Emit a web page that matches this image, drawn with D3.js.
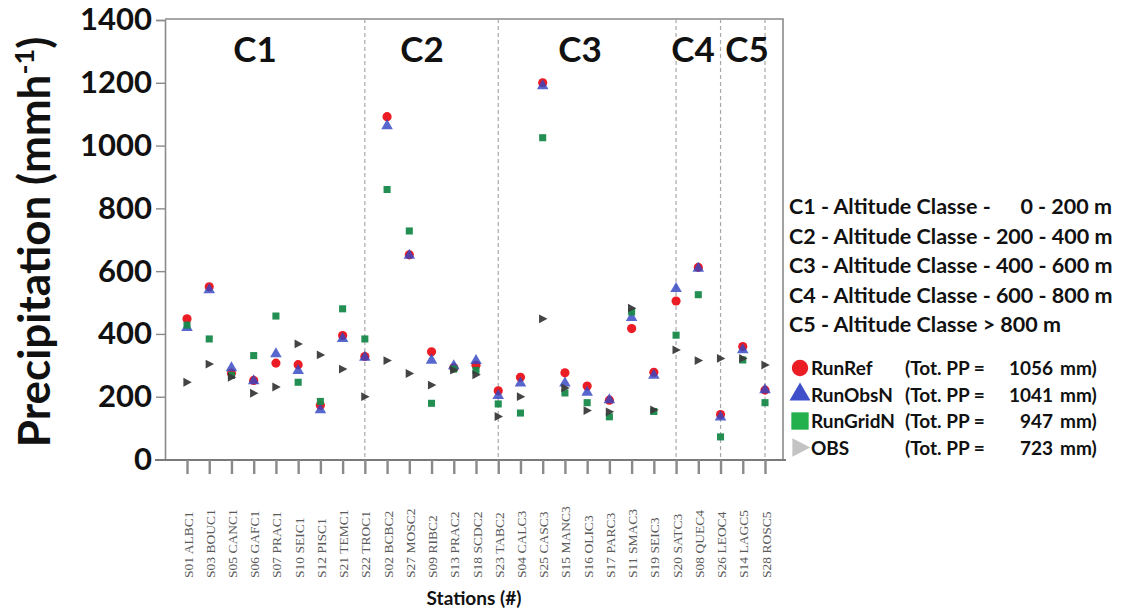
<!DOCTYPE html>
<html>
<head>
<meta charset="utf-8">
<script src="https://d3js.org/d3.v7.min.js"></script>
<style>
  html, body { margin: 0; padding: 0; background: #fff; }
  svg { display: block; }
</style>
</head>
<body>
<div id="chart"></div>
<script>
// stations in plotting order
const stations = [
  "S01 ALBC1", "S03 BOUC1", "S05 CANC1", "S06 GAFC1", "S07 PRAC1", "S10 SEIC1", "S12 PISC1", "S21 TEMC1", "S22 TROC1",
  "S02 BCBC2", "S27 MOSC2", "S09 RIBC2", "S13 PRAC2", "S18 SCDC2", "S23 TABC2",
  "S04 CALC3", "S25 CASC3", "S15 MANC3", "S16 OLIC3", "S17 PARC3", "S11 SMAC3", "S19 SEIC3",
  "S20 SATC3", "S08 QUEC4",
  "S26 LEOC4", "S14 LAGC5", "S28 ROSC5"
];

// precipitation (mm h-1)
const runRef   = [448, 550, 275, 252, 307, 302, 173, 395, 328, 1092, 652, 343, 292, 300, 219, 262, 1200, 276, 234, 189, 417, 278, 505, 612, 143, 360, 221];
const runObsN  = [420, 540, 292, 250, 336, 283, 158, 385, 325, 1063, 650, 316, 298, 315, 203, 243, 1190, 243, 214, 190, 452, 268, 544, 609, 135, 349, 222];
const runGridN = [428, 384, 268, 331, 457, 246, 185, 480, 384, 860, 728, 179, 288, 284, 177, 148, 1025, 212, 181, 136, 470, 153, 396, 525, 72, 317, 181];
const obs      = [246, 304, 262, 211, 231, 368, 333, 288, 200, 315, 274, 237, 285, 270, 137, 200, 448, 228, 156, 152, 482, 158, 349, 315, 322, 322, 301];

// class boundaries (dashed lines) and class labels
const dividers = ["S22 TROC1", "S23 TABC2", "S20 SATC3", "S26 LEOC4", "S28 ROSC5"];
const classLabels = ["C1", "C2", "C3", "C4", "C5"];
const classLabelX = [255, 422, 580, 693, 747];

const classLegend = [
  ["C1 - Altitude Classe -", "0 - 200 m"],
  ["C2 - Altitude Classe - 200 - 400 m", ""],
  ["C3 - Altitude Classe - 400 - 600 m", ""],
  ["C4 - Altitude Classe - 600 - 800 m", ""],
  ["C5 - Altitude Classe > 800 m", ""]
];
const seriesNames = ["RunRef", "RunObsN", "RunGridN", "OBS"];
const seriesTotals = [1056, 1041, 947, 723];
const yTicks = [0, 200, 400, 600, 800, 1000, 1200, 1400];

const width = 1121, height = 614;
const plotLeft = 165, plotRight = 783, plotTop = 19, plotBottom = 460;
const font = "Lato, 'Open Sans', sans-serif";

const svg = d3.select("#chart").append("svg")
  .attr("width", width)
  .attr("height", height);

svg.append("rect").attr("width", width).attr("height", height).attr("fill", "#fff");

const x = d3.scalePoint().domain(stations).range([187, 765]);
const y = d3.scaleLinear().domain([0, 1400]).range([459.5, 20]);

// frame (top + right)
svg.append("path")
  .attr("d", `M${plotLeft},${plotTop}H${plotRight}V${plotBottom}`)
  .attr("fill", "none")
  .attr("stroke", "#8a8a8a")
  .attr("stroke-width", 1.6);

// dashed class dividers
svg.append("g")
  .selectAll("line")
  .data(dividers)
  .enter().append("line")
  .attr("x1", d => x(d)).attr("x2", d => x(d))
  .attr("y1", plotTop).attr("y2", plotBottom)
  .attr("stroke", "#a8a8a8")
  .attr("stroke-width", 1.2)
  .attr("stroke-dasharray", "4,3");

// y axis
const yAxis = svg.append("g")
  .attr("transform", `translate(${plotLeft},0)`)
  .call(d3.axisLeft(y).tickValues(yTicks).tickSize(9).tickPadding(4).tickFormat(d3.format("d")));
yAxis.select(".domain").attr("stroke", "#8a8a8a").attr("stroke-width", 1.6);
yAxis.selectAll(".tick line").attr("stroke", "#8a8a8a").attr("stroke-width", 1.4);
yAxis.selectAll(".tick text")
  .attr("fill", "#111")
  .style("font-family", font)
  .style("font-weight", "bold")
  .style("font-size", "31px");

// x axis
const xAxis = svg.append("g")
  .attr("transform", `translate(0,${plotBottom})`)
  .call(d3.axisBottom(x).tickSize(14).tickSizeOuter(0));
xAxis.select(".domain")
  .attr("d", `M155,0H786`)
  .attr("stroke", "#7a7a7a")
  .attr("stroke-width", 2.2);
xAxis.selectAll(".tick line").attr("stroke", "#8a8a8a").attr("stroke-width", 2.4);
xAxis.selectAll(".tick text")
  .attr("transform", "rotate(-90)")
  .attr("x", -118)
  .attr("y", 5)
  .attr("dy", null)
  .attr("text-anchor", "start")
  .attr("fill", "#5a5a5a")
  .style("font-family", "'Liberation Serif', 'DejaVu Serif', serif")
  .style("font-size", "13.5px");

// class labels
svg.append("g")
  .selectAll("text")
  .data(classLabels)
  .enter().append("text")
  .attr("x", (d, i) => classLabelX[i])
  .attr("y", 62)
  .attr("text-anchor", "middle")
  .style("font-family", font)
  .style("font-weight", "bold")
  .style("font-size", "35px")
  .attr("fill", "#111")
  .text(d => d);

// marker shapes
const circleSym = d3.symbol().type(d3.symbolCircle).size(66);
const triSym = d3.symbol().type(d3.symbolTriangle).size(58);
const squareSym = d3.symbol().type(d3.symbolSquare).size(50);
function rightTri(s) {
  return `M${-s * 0.45},${-s * 0.55}L${s * 0.6},0L${-s * 0.45},${s * 0.55}Z`;
}

const series = [
  { data: runRef, path: circleSym(), color: "#ec1c24", op: 1 },
  { data: runObsN, path: triSym(), color: "#3345c2", op: 0.82 },
  { data: runGridN, path: squareSym(), color: "#17894a", op: 0.95 },
  { data: obs, path: rightTri(8), color: "#3a3a3a", op: 0.95 }
];

series.forEach(s => {
  svg.append("g")
    .selectAll("path")
    .data(stations)
    .enter().append("path")
    .attr("d", s.path)
    .attr("transform", (d, i) => `translate(${x(d)},${y(s.data[i])})`)
    .attr("fill", s.color)
    .attr("fill-opacity", s.op);
});

// axis titles
svg.append("text")
  .attr("transform", "translate(50,242) rotate(-90)")
  .attr("text-anchor", "middle")
  .style("font-family", font)
  .style("font-weight", "bold")
  .style("font-size", "44px")
  .attr("fill", "#111")
  .call(t => {
    t.append("tspan").text("Precipitation (mmh");
    t.append("tspan").attr("baseline-shift", "super").style("font-size", "27px").text("-1");
    t.append("tspan").text(")");
  });

svg.append("text")
  .attr("x", 474)
  .attr("y", 605)
  .attr("text-anchor", "middle")
  .style("font-family", font)
  .style("font-weight", "bold")
  .style("font-size", "19px")
  .attr("fill", "#111")
  .text("Stations (#)");

// legend: altitude classes
const legend = svg.append("g")
  .style("font-family", font)
  .style("font-weight", "bold")
  .attr("fill", "#111");

classLegend.forEach((row, i) => {
  const yy = 214 + i * 29.5;
  legend.append("text").attr("x", 789).attr("y", yy).style("font-size", "21.5px").text(row[0]);
  if (row[1]) {
    legend.append("text").attr("x", 1112).attr("y", yy).attr("text-anchor", "end").style("font-size", "21.5px").text(row[1]);
  }
});

// legend: series
const legendSym = [
  d3.symbol().type(d3.symbolCircle).size(210)(),
  d3.symbol().type(d3.symbolTriangle).size(190)(),
  d3.symbol().type(d3.symbolSquare).size(300)(),
  rightTri(17)
];
const legendColor = ["#ec1c24", "#3f4fc9", "#22b14c", "#c3c3c3"];

seriesNames.forEach((name, i) => {
  const yy = 368 + i * 26.5;
  legend.append("path")
    .attr("d", legendSym[i])
    .attr("transform", `translate(800,${yy})`)
    .attr("fill", legendColor[i]);
  legend.append("text").attr("x", 811).attr("y", yy + 7).style("font-size", "19px").text(name);
  legend.append("text").attr("x", 905).attr("y", yy + 7).style("font-size", "19px").text("(Tot. PP =");
  legend.append("text").attr("x", 1053).attr("y", yy + 7).attr("text-anchor", "end").style("font-size", "19px").text(seriesTotals[i]);
  legend.append("text").attr("x", 1060).attr("y", yy + 7).style("font-size", "19px").text("mm)");
});
</script>
</body>
</html>
